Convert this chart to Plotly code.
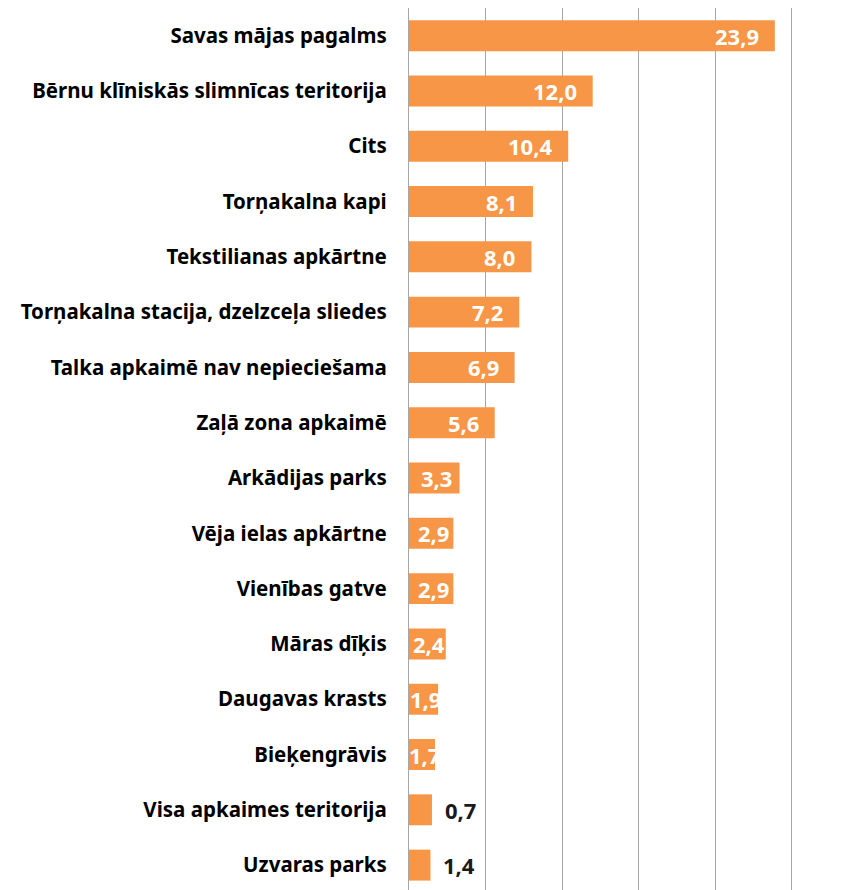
import plotly.graph_objects as go

categories = [
    "Savas mājas pagalms",
    "Bērnu klīniskās slimnīcas teritorija",
    "Cits",
    "Torņakalna kapi",
    "Tekstilianas apkārtne",
    "Torņakalna stacija, dzelzceļa sliedes",
    "Talka apkaimē nav nepieciešama",
    "Zaļā zona apkaimē",
    "Arkādijas parks",
    "Vēja ielas apkārtne",
    "Vienības gatve",
    "Māras dīķis",
    "Daugavas krasts",
    "Bieķengrāvis",
    "Visa apkaimes teritorija",
    "Uzvaras parks",
]
# bar lengths as drawn in the picture
bar_values = [23.9, 12.0, 10.4, 8.1, 8.0, 7.2, 6.9, 5.6, 3.3, 2.9, 2.9, 2.4, 1.9, 1.7, 1.5, 1.4]
# value labels as printed
value_labels = ["23,9", "12,0", "10,4", "8,1", "8,0", "7,2", "6,9", "5,6", "3,3", "2,9",
                "2,9", "2,4", "1,9", "1,7", "0,7", "1,4"]
outside_labels = {"Visa apkaimes teritorija", "Uzvaras parks"}

ORANGE = "#F79646"
GRID = "#A6A6A6"
FONT = "Noto Sans, Open Sans, sans-serif"

# page body has an 8px margin in the browser
W, H = 851, 882
L, R = 401, 52
XMAX = 26.0
pxu = (W - L - R) / XMAX

fig = go.Figure(go.Bar(
    x=bar_values, y=categories, orientation="h",
    marker=dict(color=ORANGE, line=dict(width=0)),
    width=0.56, hoverinfo="skip",
))

vfont_w = dict(color="white", size=22, family=FONT, weight="bold")
annotations = []
for cat, v, lab in zip(categories, bar_values, value_labels):
    if cat in outside_labels:
        annotations.append(dict(x=v, y=cat, text=lab, showarrow=False, xanchor="left",
                                xshift=11, font=dict(color="#1a1a1a", size=22, family=FONT, weight="bold")))
    else:
        bar_px = v * pxu
        if bar_px >= 60:
            annotations.append(dict(x=v, y=cat, text=lab, showarrow=False, xanchor="right",
                                    xshift=-14, font=vfont_w))
        else:
            annotations.append(dict(x=v / 2, y=cat, text=lab, showarrow=False, xanchor="center",
                                    xshift=2, font=vfont_w))

fig.update_layout(
    width=W, height=H,
    margin=dict(l=L, r=R, t=0, b=0, pad=0),
    plot_bgcolor="white", paper_bgcolor="white",
    showlegend=False,
    annotations=annotations,
    xaxis=dict(range=[0, XMAX], dtick=5, tick0=0, showgrid=True, gridcolor=GRID, gridwidth=1.3,
               showticklabels=False, zeroline=False, showline=False, fixedrange=True),
    yaxis=dict(categoryorder="array", categoryarray=categories,
               range=[15.45, -0.5], showline=True, linecolor=GRID, linewidth=1.3,
               showgrid=False, ticks="", ticklabelstandoff=17,
               tickfont=dict(size=20.5, color="#000000", family=FONT, weight="bold"),
               fixedrange=True),
)

fig.write_html("out.html")
